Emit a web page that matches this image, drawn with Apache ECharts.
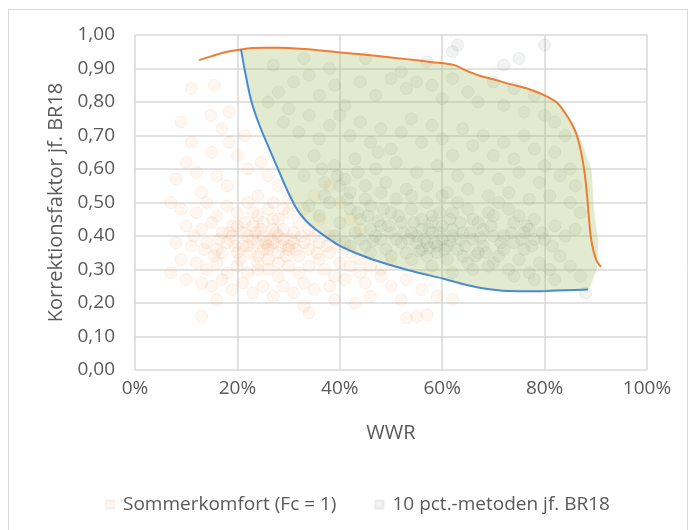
<!DOCTYPE html>
<html><head><meta charset="utf-8">
<script src="https://cdn.jsdelivr.net/npm/echarts@6/dist/echarts.min.js"></script>
<style>html,body{margin:0;padding:0;background:#fff}#c{width:694px;height:530px}</style>
</head><body><div id="c"></div>
<script>
// ---------- DATA ----------
const xTickLabels = ['0%','20%','40%','60%','80%','100%'];
const yTickLabels = ['0,00','0,10','0,20','0,30','0,40','0,50','0,60','0,70','0,80','0,90','1,00'];
const seriesNames = ['Sommerkomfort (Fc = 1)', '10 pct.-metoden jf. BR18'];

// WWR in %, correction factor
const sommerkomfort = [
 [11,0.84],[15.5,0.85],[14.8,0.76],[9,0.74],[11,0.68],[18.4,0.77],[18.4,0.68],[15,0.65],[8,0.57],[21.4,0.70],
 [24.6,0.62],[18,0.55],[13,0.53],[22,0.60],[26,0.58],[10,0.62],[17,0.72],[20,0.64],[12,0.59],[28,0.55],
 [24,0.52],[16,0.58],[7,0.50],[27,0.50],
 [9,0.48],[12,0.47],[14,0.50],[16,0.46],[18,0.49],[20,0.47],[22,0.50],[24,0.46],[26,0.48],[28,0.45],
 [30,0.47],[32,0.44],[10,0.43],[13,0.42],[15,0.44],[17,0.41],[19,0.43],[21,0.41],[23,0.43],[25,0.40],
 [27,0.42],[29,0.39],[31,0.41],[33,0.38],[35,0.40],[8,0.38],[11,0.37],[14,0.38],[16,0.36],[18,0.38],
 [20,0.35],[22,0.37],[24,0.34],[26,0.37],[28,0.35],[30,0.37],[32,0.34],[34,0.36],[36,0.33],[38,0.35],
 [40,0.32],[9,0.33],[12,0.32],[14,0.30],[16,0.32],[18,0.29],[20,0.31],[22,0.29],[24,0.32],[26,0.30],
 [28,0.28],[30,0.31],[32,0.29],[34,0.31],[37,0.30],[39,0.28],[42,0.31],[44,0.29],[7,0.29],[10,0.27],
 [13,0.26],[15,0.25],[17,0.27],[19,0.24],[21,0.26],[23,0.23],[25,0.25],[27,0.22],[29,0.25],[31,0.23],
 [33,0.26],[35,0.24],[38,0.25],[41,0.27],[45,0.26],[48,0.28],[50,0.25],[53,0.27],[56,0.24],[59,0.22],
 [62,0.21],[46,0.22],[52,0.21],[16,0.21],[13,0.16],[34,0.17],[33,0.19],[55,0.16],[53,0.155],[57,0.165],
 [43,0.20],[39,0.21],
 [22,0.40],[24,0.38],[26,0.36],[28,0.40],[30,0.36],[27,0.38],[25,0.36],[23,0.39],[21,0.37],[29,0.42],
 [31,0.38],[19,0.40],[17,0.35],[20,0.43],[25,0.44],[34,0.42],[36,0.38],[38,0.40],[40,0.37],[42,0.35],
 [44,0.33],[46,0.31],[48,0.30],[50,0.32],[36,0.45],[33,0.48],[30,0.51],[35,0.52],[38,0.55],[40,0.50],
 [42,0.45],[44,0.42],
 [23.5,0.41],[26.5,0.39],[28.5,0.37],[30.5,0.39],[27.5,0.41],[25.5,0.38],[24.5,0.42],[22.5,0.35],[29.5,0.34],
 [31.5,0.36],[19.5,0.37],[21.5,0.44],[18.5,0.41],[26,0.33],[24,0.30],[28,0.32],[20.5,0.33],[32.5,0.40],
 [16.5,0.39],[15.5,0.34],[27,0.45],[23,0.47],[29,0.48],[13.5,0.36],[11.5,0.40],[35.5,0.35],[37.5,0.37]
];
const pct10metoden = [
 [27,0.91],[33,0.93],[38,0.90],[45,0.93],[52,0.89],[57,0.92],[62,0.95],[63,0.97],[72,0.91],[80,0.97],[75,0.93],
 [26,0.80],[28,0.83],[30,0.78],[31,0.86],[34,0.88],[36,0.82],[39,0.85],[41,0.79],[44,0.86],[47,0.82],
 [50,0.87],[53,0.84],[55,0.86],[58,0.85],[60,0.81],[62,0.87],[65,0.83],[67,0.80],[70,0.86],[72,0.79],
 [74,0.84],[76,0.77],[78,0.82],[80,0.76],[82,0.74],[84,0.70],
 [29,0.74],[32,0.71],[34,0.76],[36,0.69],[38,0.73],[40,0.76],[42,0.70],[44,0.74],[46,0.68],[48,0.72],
 [50,0.66],[52,0.71],[54,0.75],[56,0.68],[58,0.73],[60,0.69],[62,0.64],[64,0.72],[66,0.67],[68,0.70],
 [70,0.64],[72,0.68],[74,0.63],[76,0.70],[78,0.66],[80,0.61],[82,0.65],[85,0.60],[86,0.55],
 [31,0.62],[33,0.58],[35,0.64],[37,0.56],[39,0.61],[41,0.57],[43,0.63],[45,0.55],[47,0.60],[49,0.56],
 [51,0.62],[53,0.54],[55,0.59],[57,0.55],[59,0.61],[61,0.53],[63,0.58],[65,0.54],[67,0.60],[69,0.52],
 [71,0.57],[73,0.53],[75,0.59],[77,0.51],[79,0.56],[81,0.52],[83,0.58],[85,0.50],[87,0.47],
 [34,0.49],[36,0.46],[38,0.50],[40,0.44],[42,0.48],[44,0.45],[46,0.49],[48,0.43],[50,0.47],[52,0.44],
 [54,0.48],[56,0.42],[58,0.46],[60,0.43],[62,0.47],[64,0.41],[66,0.45],[68,0.42],[70,0.46],[72,0.40],
 [74,0.44],[76,0.41],[78,0.45],[80,0.39],[82,0.43],[84,0.40],[86,0.42],
 [39,0.40],[41,0.38],[43,0.41],[45,0.37],[47,0.40],[49,0.36],[51,0.39],[53,0.35],[55,0.38],[57,0.34],
 [59,0.37],[61,0.33],[63,0.36],[65,0.32],[67,0.35],[69,0.31],[71,0.34],[73,0.30],[75,0.33],[77,0.29],
 [79,0.32],[81,0.30],[83,0.34],[85,0.31],[87,0.28],[88,0.23],
 [55,0.40],[57,0.38],[58,0.41],[60,0.39],[61,0.37],[62,0.40],[56,0.36],[54,0.41],[52,0.38],[50,0.41],
 [48,0.39],[46,0.42],[44,0.39],[58,0.44],[62,0.42],[66,0.39],[68,0.37],[70,0.40],[72,0.36],[74,0.38],
 [76,0.36],[78,0.39],[77,0.42],[75,0.46],[73,0.48],[71,0.50],[69,0.47],[67,0.44],[65,0.48],[63,0.50],
 [60,0.52],[57,0.50],[54,0.52],[51,0.51],[48,0.53],[45,0.51],[42,0.53],[40,0.55],[37,0.52],[56,0.45],
 [59,0.35],[64,0.34],[70,0.32],[74,0.28],[78,0.27],[82,0.27],[66,0.30],[62,0.29],[58,0.31],[54,0.33],
 [50,0.34],[46,0.35],[42,0.37],
 [56.5,0.39],[57.5,0.365],[58.5,0.38],[59.5,0.41],[60.5,0.36],[61.5,0.385],[63.5,0.39],[64.5,0.37],
 [55.5,0.355],[53.5,0.39],[52.5,0.41],[49.5,0.43],[47.5,0.445],[45.5,0.46],[43.5,0.47],[46.5,0.385],
 [65.5,0.41],[67.5,0.395],[69.5,0.43],[71.5,0.38],[73.5,0.41],[75.5,0.39],[76.5,0.43],[77.5,0.37],
 [79.5,0.41],[81.5,0.37],[68.5,0.35],[66.5,0.34],[63.5,0.44],[61.5,0.45],[59.5,0.47],[57.5,0.42],
 [54.5,0.44],[51.5,0.46],[48.5,0.48],[41.5,0.51],[39.5,0.58],[43.5,0.59],[47.5,0.65],[36.5,0.60]
];
// upper envelope (orange)
const upperCurve = [
 [12.5,0.925],[15,0.937],[18,0.95],[20.7,0.957],[23,0.961],[25.3,0.962],[28,0.962],[33,0.958],[40,0.948],
 [47,0.938],[53,0.928],[58,0.919],[62.4,0.91],[64.5,0.895],[67,0.88],[70,0.868],[73.1,0.854],[77,0.838],
 [80.5,0.816],[82.5,0.797],[84,0.767],[85.3,0.735],[86.3,0.70],[87.2,0.645],[87.8,0.59],[88.3,0.52],
 [88.6,0.465],[89,0.40],[89.5,0.358],[90.2,0.325],[91,0.308]
];
// lower envelope (blue)
const lowerCurve = [
 [20.7,0.957],[21.5,0.89],[22.7,0.804],[24.2,0.735],[25.9,0.672],[27.5,0.615],[28.9,0.565],[30.4,0.515],
 [31.7,0.478],[33.3,0.447],[35,0.423],[36.6,0.405],[38.5,0.385],[40.2,0.369],[43,0.35],[46.4,0.33],
 [50,0.313],[52.9,0.3],[56,0.288],[60.1,0.273],[64,0.257],[67.6,0.245],[70.5,0.239],[73.1,0.236],
 [77,0.235],[80.4,0.236],[84,0.238],[88.5,0.24]
];
// right edge of the shaded band
const areaRightEdge = [
 [85.6,0.734],[87.6,0.665],[89.2,0.595],[89.5,0.505],[89.9,0.448],[90.5,0.378],[90.2,0.299],[88.9,0.249],[88.5,0.24]
];

// ---------- CHART ----------
const FONT = '"Open Sans", "Noto Sans", sans-serif';
const TXT = '#595959';
const areaPoly = upperCurve.filter(p => p[0] >= 20.7 && p[0] <= 85)
  .concat(areaRightEdge)
  .concat(lowerCurve.slice().reverse());

const chart = echarts.init(document.getElementById('c'), null, {renderer: 'canvas'});
chart.setOption({
  animation: false,
  backgroundColor: '#ffffff',
  textStyle: {fontFamily: FONT},
  graphic: [{
    type: 'rect', silent: true, z: -10,
    shape: {x: 8.5, y: 9.5, width: 679, height: 540},
    style: {fill: 'none', stroke: '#d9d9d9', lineWidth: 1}
  }],
  grid: {left: 135, right: 47, top: 35, bottom: 160, outerBoundsMode: 'none', containLabel: false},
  xAxis: {
    type: 'value', min: 0, max: 100, interval: 20,
    name: 'WWR', nameLocation: 'middle', nameGap: 53,
    nameTextStyle: {color: TXT, fontSize: 20, fontFamily: FONT},
    axisLine: {show: false}, axisTick: {show: false},
    axisLabel: {color: TXT, fontSize: 19, fontFamily: FONT, margin: 9,
      formatter: v => xTickLabels[Math.round(v / 20)]},
    splitLine: {show: true, lineStyle: {color: '#d9d9d9', width: 1.5}}
  },
  yAxis: {
    type: 'value', min: 0, max: 1, interval: 0.1,
    name: 'Korrektionsfaktor jf. BR18', nameLocation: 'middle', nameGap: 66, nameRotate: 90,
    nameTextStyle: {color: TXT, fontSize: 20, fontFamily: FONT},
    axisLine: {show: false}, axisTick: {show: false},
    axisLabel: {color: TXT, fontSize: 19, fontFamily: FONT, margin: 20,
      formatter: v => yTickLabels[Math.round(v * 10)]},
    splitLine: {show: true, lineStyle: {color: '#d9d9d9', width: 1.5}}
  },
  legend: {
    data: seriesNames, left: 100, top: 490, icon: 'rect', itemWidth: 8, itemHeight: 8, itemGap: 38,
    textStyle: {color: TXT, fontSize: 19, fontFamily: FONT, padding: [0, 0, 0, 4]}
  },
  series: [
    {
      name: seriesNames[0], type: 'scatter', data: sommerkomfort, symbolSize: 12, z: 2,
      itemStyle: {color: 'rgba(237,125,49,0.09)', borderColor: 'rgba(237,125,49,0.11)', borderWidth: 1}
    },
    {
      name: seriesNames[1], type: 'scatter', data: pct10metoden, symbolSize: 12, z: 2,
      itemStyle: {color: 'rgba(100,105,110,0.1)', borderColor: 'rgba(100,105,110,0.12)', borderWidth: 1}
    },
    {
      name: 'band', type: 'custom', z: 3, silent: true, data: [[0, 0]],
      renderItem: (params, api) => {
        if (params.dataIndex !== 0) return null;
        const pts = areaPoly.map(p => api.coord(p));
        return {type: 'polygon', shape: {points: pts}, style: {fill: 'rgba(160,190,95,0.3)'}};
      }
    },
    {
      name: 'upper', type: 'line', data: upperCurve, smooth: 0.3, showSymbol: false, z: 4, silent: true,
      lineStyle: {color: '#ED7D31', width: 2}
    },
    {
      name: 'lower', type: 'line', data: lowerCurve, smooth: 0.3, showSymbol: false, z: 4, silent: true,
      lineStyle: {color: '#4A8AD0', width: 2}
    }
  ]
});
</script>
</body></html>
